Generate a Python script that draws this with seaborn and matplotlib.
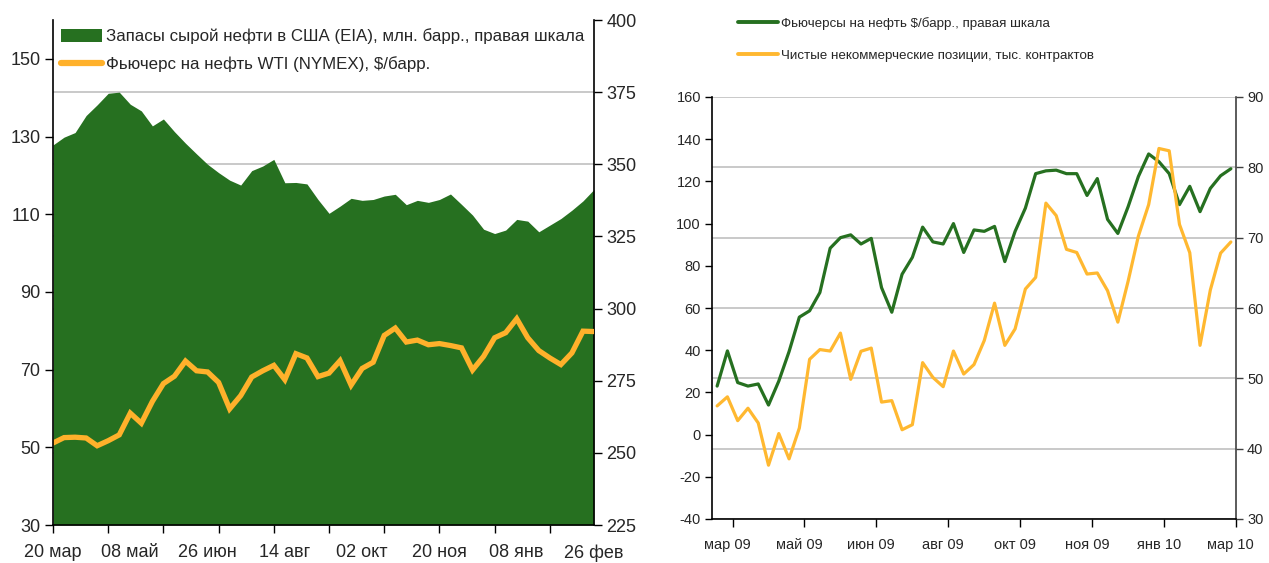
import matplotlib
matplotlib.use("Agg")
import matplotlib.pyplot as plt
import matplotlib.patches as mpatches
import matplotlib.lines as mlines
from matplotlib import font_manager
import numpy as np
import pandas as pd
import seaborn as sns

# ---------------- data ----------------
# Left chart: weekly, 20 Mar 2009 .. 26 Feb 2010 (50 weeks)
left_tick_labels = ['20 мар', '08 май', '26 июн', '14 авг', '02 окт', '20 ноя', '08 янв', '26 фев']
crude_stocks = [356.7, 359.4, 361.0, 366.9, 370.6, 374.6, 375.0, 370.8, 368.5, 363.3,
                365.7, 361.3, 357.3, 353.6, 350.0, 347.1, 344.5, 342.8, 347.8, 349.4,
                351.7, 343.6, 343.7, 343.2, 337.8, 333.0, 335.5, 338.2, 337.5, 337.8,
                339.0, 339.6, 336.0, 337.5, 336.8, 337.8, 339.7, 336.1, 332.4, 327.5,
                326.0, 327.2, 330.9, 330.3, 326.6, 328.9, 331.2, 334.1, 337.3, 341.3]
wti_futures = [51.1, 52.5, 52.6, 52.4, 50.4, 51.7, 53.2, 58.8, 56.2, 61.8,
               66.4, 68.3, 72.2, 69.7, 69.4, 66.7, 59.9, 63.3, 68.1, 69.7,
               71.1, 67.4, 74.1, 73.0, 68.2, 69.1, 72.3, 66.0, 70.3, 71.9,
               78.8, 80.7, 77.1, 77.6, 76.4, 76.7, 76.2, 75.6, 69.9, 73.4,
               78.2, 79.5, 83.1, 78.2, 74.9, 73.0, 71.3, 74.3, 79.9, 79.8]

# Right chart: weekly, 51 points (Mar 2009 .. Mar 2010)
right_tick_labels = ['мар 09', 'май 09', 'июн 09', 'авг 09', 'окт 09', 'ноя 09', 'янв 10', 'мар 10']
oil_futures = [48.9, 53.9, 49.4, 48.9, 49.2, 46.2, 49.6, 53.8, 58.7, 59.6,
               62.2, 68.5, 70.0, 70.4, 69.1, 69.9, 62.9, 59.4, 64.8, 67.2,
               71.5, 69.4, 69.1, 72.0, 67.9, 71.1, 70.9, 71.6, 66.6, 70.9,
               74.2, 79.1, 79.5, 79.6, 79.1, 79.1, 76.0, 78.4, 72.6, 70.6,
               74.4, 78.7, 81.9, 80.8, 79.1, 74.7, 77.3, 73.7, 77.0, 78.8, 79.8]
net_positions = [13.6, 17.9, 6.6, 12.5, 5.5, -14.5, 0.5, -11.5, 3.1, 35.7,
                 40.3, 39.6, 48.1, 26.2, 39.5, 41.0, 15.4, 16.1, 2.3, 4.7,
                 34.1, 27.1, 22.7, 39.6, 28.7, 33.2, 44.6, 62.3, 42.3, 50.1,
                 69.0, 74.5, 109.7, 103.8, 87.8, 86.3, 76.1, 76.6, 68.2, 53.3,
                 72.7, 94.1, 109.0, 135.6, 134.5, 99.6, 86.2, 42.3, 68.5, 86.0, 91.3]

legend_left = ['Запасы сырой нефти в США (EIA), млн. барр., правая шкала',
               'Фьючерс на нефть WTI (NYMEX), $/барр.']
legend_right = ['Фьючерсы на нефть $/барр., правая шкала',
                'Чистые некоммерческие позиции, тыс. контрактов']

# ---------------- style ----------------
sns.set_theme(style="white")
names = {f.name for f in font_manager.fontManager.ttflist}
fam = [n for n in ['Liberation Sans Narrow', 'Arial Narrow', 'Liberation Sans'] if n in names] + ['DejaVu Sans']
plt.rcParams['font.family'] = fam
plt.rcParams['axes.unicode_minus'] = False

GREEN = '#267020'
ORANGE = '#FFB12B'
ORANGE_R = '#FFB830'
GRID = '#C0C0C0'

fig = plt.figure(figsize=(12.69, 5.63), dpi=100)

# ================= LEFT CHART =================
axL = fig.add_axes([53/1269, 1-525/563, (594-53)/1269, (525-20)/563])
axR = axL.twinx()

dfL = pd.DataFrame({'week': np.arange(len(wti_futures)),
                    'wti': wti_futures, 'stocks': crude_stocks})

axR.set_ylim(225, 400)
axR.set_yticks(np.arange(225, 401, 25))
for yv in np.arange(250, 400, 25):
    axR.axhline(yv, color=GRID, linewidth=1.2, zorder=0)
# area on right scale
axR.fill_between(dfL['week'], dfL['stocks'], 225, color=GREEN, linewidth=0, zorder=2)

# line on left scale, drawn above area
axL.set_zorder(axR.get_zorder() + 1)
axL.patch.set_visible(False)
sns.lineplot(data=dfL, x='week', y='wti', ax=axL, color=ORANGE, linewidth=3.8,
             solid_joinstyle='miter', legend=False)
axL.set_ylim(30, 160)
axL.set_yticks(np.arange(30, 151, 20))
axL.set_xlim(0, 49)
axL.set_xlabel('')
axL.set_ylabel('')
axR.set_ylabel('')

# x ticks: marks every 5 weeks, labels every 7 weeks
axL.xaxis.remove_overlapping_locs = False
axL.set_xticks(np.arange(0, 46, 5))
axL.set_xticklabels([])
axL.set_xticks(np.arange(0, 50, 7), minor=True)
axL.set_xticklabels(left_tick_labels, minor=True)
axL.tick_params(axis='x', which='major', direction='out', length=6, width=1, color='black', bottom=True)
axL.tick_params(axis='x', which='minor', length=0, pad=14, labelsize=13, bottom=True)
axL.tick_params(axis='y', direction='out', length=6, width=1, color='black', labelsize=13, left=True, pad=3)
axR.tick_params(axis='y', direction='out', length=6, width=1, color='black', labelsize=13, right=True, pad=3)

for ax in (axL, axR):
    for s in ax.spines.values():
        s.set_visible(False)
axL.spines['left'].set_visible(True)
axL.spines['bottom'].set_visible(True)
axR.spines['right'].set_visible(True)
for s in ('left', 'bottom'):
    axL.spines[s].set_color('black'); axL.spines[s].set_linewidth(1.2)
axR.spines['right'].set_color('black'); axR.spines['right'].set_linewidth(1.2)

hL = [mpatches.Patch(facecolor=GREEN, edgecolor='none'),
      mlines.Line2D([], [], color=ORANGE, linewidth=4.5)]
axL.legend(hL, legend_left, loc='upper left', bbox_to_anchor=(0.0, 1.0),
           frameon=False, fontsize=12.2, handlelength=2.4, handleheight=0.8,
           handletextpad=0.25, labelspacing=0.7, borderaxespad=0.3, borderpad=0.2)

# ================= RIGHT CHART =================
bx2 = fig.add_axes([712/1269, 1-519/563, (1236-712)/1269, (519-97)/563])
bx = bx2.twinx()   # orange series, left scale, drawn on top

dfR = pd.DataFrame({'week': np.arange(len(oil_futures)),
                    'fut': oil_futures, 'pos': net_positions})

bx2.set_ylim(30, 90)
bx2.set_yticks(np.arange(30, 91, 10))
bx2.yaxis.grid(True, color=GRID, linewidth=1.2)
bx2.set_axisbelow(True)
bx.set_ylim(-40, 160)
bx.set_yticks(np.arange(-40, 161, 20))

sns.lineplot(data=dfR, x='week', y='fut', ax=bx2, color=GREEN, linewidth=2.3, legend=False)
sns.lineplot(data=dfR, x='week', y='pos', ax=bx, color=ORANGE_R, linewidth=2.3, legend=False)

# move scales: bx2 (green) ticks on right, bx (orange) ticks on left
bx2.yaxis.tick_right()
bx2.yaxis.set_label_position('right')
bx.yaxis.tick_left()
bx.yaxis.set_label_position('left')

bx2.set_xlim(-0.5, 50.5)
bx.set_xlim(-0.5, 50.5)
for a in (bx, bx2):
    a.set_xlabel(''); a.set_ylabel('')
bx2.set_xticks(np.arange(1.5, 51, 7))
bx2.set_xticklabels([])
bx2.set_xticks(np.arange(1, 51, 7), minor=True)
bx2.set_xticklabels(right_tick_labels, minor=True)
bx2.tick_params(axis='x', which='major', direction='out', length=6, width=1, color='black', bottom=True)
bx2.tick_params(axis='x', which='minor', length=0, pad=14, labelsize=10.5, bottom=True)
bx.tick_params(axis='y', direction='out', length=5, width=1, color='black', labelsize=10.5,
               left=True, right=False, labelleft=True, labelright=False, pad=3)
bx2.tick_params(axis='y', direction='out', length=5, width=1, color='#404040', labelsize=10.5,
                right=True, left=False, labelright=True, labelleft=False, pad=3)

for ax in (bx, bx2):
    for s in ax.spines.values():
        s.set_visible(False)
bx.spines['left'].set_visible(True); bx.spines['left'].set_color('black'); bx.spines['left'].set_linewidth(1.2)
bx2.spines['bottom'].set_visible(True); bx2.spines['bottom'].set_color('black'); bx2.spines['bottom'].set_linewidth(1.2)
bx2.spines['right'].set_visible(True); bx2.spines['right'].set_color('#404040'); bx2.spines['right'].set_linewidth(1.2)

hR = [mlines.Line2D([], [], color=GREEN, linewidth=2.8),
      mlines.Line2D([], [], color=ORANGE_R, linewidth=2.8)]
fig.legend(hR, legend_right, loc='upper left', bbox_to_anchor=(738/1269, 1-17/563),
           frameon=False, fontsize=9.6, handlelength=3.0, handletextpad=0.2,
           labelspacing=1.45, borderaxespad=0, borderpad=0)

fig.savefig('out.png', dpi=100, facecolor='white')
